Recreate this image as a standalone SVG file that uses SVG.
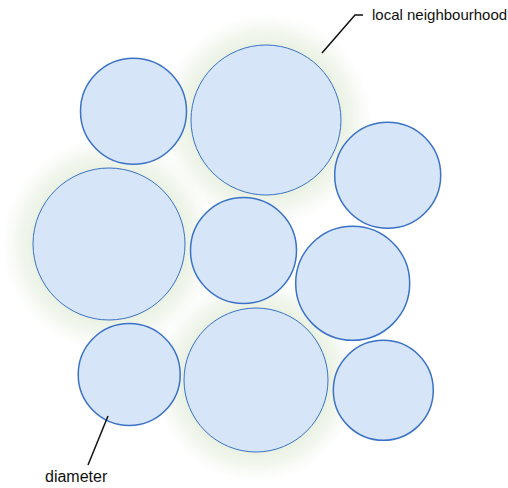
<svg xmlns="http://www.w3.org/2000/svg" width="508" height="488" viewBox="0 0 508 488">
<style>
.c{fill:#d6e5f7;stroke:#3a72c8;stroke-width:1.5}
.b{fill:#d6e5f7;stroke:#3a72c8;stroke-width:1}
.l{fill:none;stroke:#111;stroke-width:1.5}
text{font-family:"Liberation Sans",Arial,sans-serif;font-size:16px;fill:#111}
</style>
<defs>
<radialGradient id="halo">
<stop offset="0.7" stop-color="#e9f1e2" stop-opacity="1"/>
<stop offset="0.84" stop-color="#eef4e9" stop-opacity="0.7"/>
<stop offset="1" stop-color="#f6f9f3" stop-opacity="0"/>
</radialGradient>
</defs>
<rect width="508" height="488" fill="#ffffff"/>
<g id="halos">
<circle cx="266" cy="120" r="107" fill="url(#halo)"/>
<circle cx="109" cy="244" r="108" fill="url(#halo)"/>
<circle cx="256" cy="380" r="103" fill="url(#halo)"/>
</g>
<g id="n1"><circle class="c" cx="133.5" cy="111.3" r="53"/></g>
<g id="n2"><circle class="b" cx="266" cy="120" r="75"/></g>
<g id="n3"><circle class="c" cx="387.7" cy="175.2" r="53"/></g>
<g id="n4"><circle class="b" cx="109" cy="244" r="76"/></g>
<g id="n5"><circle class="c" cx="243.5" cy="250.5" r="53"/></g>
<g id="n6"><circle class="c" cx="352.7" cy="283.3" r="57"/></g>
<g id="n7"><circle class="c" cx="129.2" cy="374.5" r="51"/></g>
<g id="n8"><circle class="b" cx="256" cy="380" r="72"/></g>
<g id="n9"><circle class="c" cx="383.3" cy="390.3" r="50"/></g>
<g id="connectors">
<polyline class="l" points="322,53 355,15 363,15"/>
<line class="l" x1="108" y1="416" x2="88" y2="465"/>
</g>
<g id="labels">
<text x="372" y="20" style="font-size:15px">local neighbourhood</text>
<text x="45" y="482">diameter</text>
</g>
</svg>
